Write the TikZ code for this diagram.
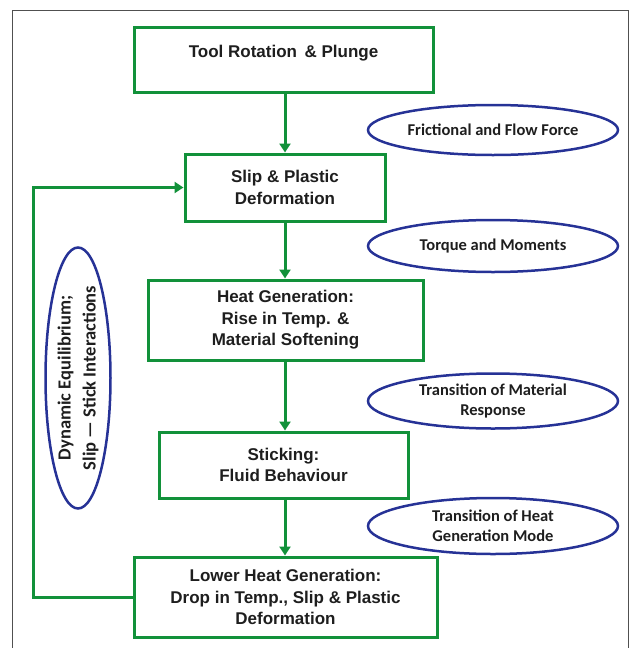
\documentclass[tikz,border=0pt]{standalone}
\usepackage{fontspec}
\setmainfont{Liberation Sans}
\newfontfamily\calfont{Carlito}
\usetikzlibrary{shapes.geometric,arrows.meta}
\definecolor{boxgreen}{RGB}{18,145,58}
\definecolor{ellblue}{RGB}{38,50,150}
\definecolor{txt}{RGB}{30,30,30}
\definecolor{framegray}{RGB}{80,80,80}
\begin{document}
\begin{tikzpicture}[x=1pt,y=-1pt,
  stepbox/.style={draw=boxgreen,line width=3pt,fill=white,inner sep=0pt,align=center,
    font=\bfseries\fontsize{17}{21.5}\selectfont,text=txt},
  bubble/.style={ellipse,draw=ellblue,line width=2.5pt,inner sep=0pt,align=center,
    font=\calfont\bfseries\fontsize{16.5}{20}\selectfont,text=txt},
  flow/.style={draw=boxgreen,line width=3pt,-{Triangle[width=11pt,length=9pt]}},
  frameline/.style={draw=framegray,line width=0.8pt}]
\useasboundingbox (0,0) rectangle (631,648);
% outer frame
\coordinate (f1) at (12,648);
\coordinate (f2) at (12,10);
\coordinate (f3) at (628,10);
\coordinate (f4) at (628,648);
\draw[frameline] (f1) -- (f2) -- (f3) -- (f4);
% boxes
\node[stepbox,minimum width=299pt,minimum height=65pt,text height=12pt,text depth=16pt] (b1) at (283.5,59.5) {Tool Rotation \,\& Plunge};
\node[stepbox,minimum width=200pt,minimum height=67pt] (b2) at (285,187.5) {Slip \& Plastic\\Deformation};
\node[stepbox,minimum width=275pt,minimum height=80pt] (b3) at (285.5,320) {Heat Generation:\\Rise in Temp. \&\\Material Softening};
\node[stepbox,minimum width=249pt,minimum height=66pt] (b4) at (283.5,465) {Sticking:\\Fluid Behaviour};
\node[stepbox,minimum width=303pt,minimum height=80pt] (b5) at (285.5,597) {Lower Heat Generation:\\Drop in Temp., Slip \& Plastic\\Deformation};
% ellipses
\node[bubble,minimum width=250pt,minimum height=50pt] (e1) at (493,130) {Frictional and Flow Force};
\node[bubble,minimum width=250pt,minimum height=52pt] (e2) at (493,246) {Torque and Moments};
\node[bubble,minimum width=250pt,minimum height=55pt] (e3) at (493,401) {Transition of Material\\Response};
\node[bubble,minimum width=250pt,minimum height=56pt] (e4) at (493,526) {Transition of Heat\\Generation Mode};
\node[bubble,rotate=90,minimum width=240pt,minimum height=65pt,
  font=\calfont\bfseries\fontsize{18.5}{25}\selectfont] (e5) at (78,378) {Dynamic Equilibrium;\\Slip — Stick Interactions};
% arrows
\draw[flow] (b1.south -| b2.north) -- (b2.north);
\draw[flow] (b2.south) -- (b2.south |- b3.north);
\draw[flow] (b3.south -| b2.south) -- (b2.south |- b4.north);
\draw[flow] (b4.south -| b2.south) -- (b2.south |- b5.north);
\coordinate (loop) at (33,0);
\draw[flow] (b5.west) -- (b5.west -| loop) |- (b2.west);
\end{tikzpicture}
\end{document}
